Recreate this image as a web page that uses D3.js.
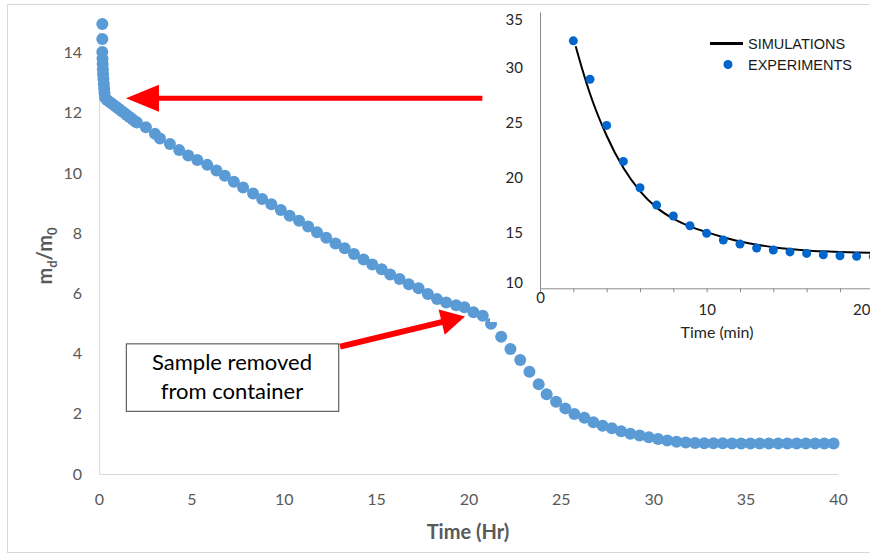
<!DOCTYPE html>
<html>
<head>
<meta charset="utf-8">
<script src="https://cdn.jsdelivr.net/npm/d3@7"></script>
<style>
  html, body { margin: 0; padding: 0; background: #fff; }
  svg { display: block; font-family: Lato, "Open Sans", sans-serif; }
</style>
</head>
<body>
<div id="chart"></div>
<script>
// main series: time (hr) vs m_d/m_0
const mainTime = [0.18, 0.18, 0.18, 0.19, 0.20, 0.21, 0.22, 0.24, 0.26, 0.28, 0.30, 0.33,
  0.45, 0.60, 0.75, 0.90, 1.05, 1.20, 1.35, 1.50, 1.65, 1.80, 1.95, 2.05,
  2.54, 3.03, 3.30, 3.84, 4.34, 4.83, 5.32, 5.86, 6.36, 6.81, 7.30, 7.80, 8.34, 8.83,
  9.33, 9.84, 10.32, 10.83, 11.32, 11.80, 12.30, 12.80, 13.30, 13.80, 14.32, 14.79,
  15.30, 15.76, 16.27, 16.77, 17.30, 17.80, 18.30, 18.79, 19.33, 19.78, 20.27, 20.77,
  21.22, 21.77, 22.27, 22.80, 23.30, 23.80, 24.23, 24.74, 25.24, 25.73, 26.27, 26.76,
  27.26, 27.76, 28.26, 28.76, 29.26, 29.76, 30.26, 30.76, 31.26, 31.76, 32.26, 32.76,
  33.26, 33.76, 34.26, 34.76, 35.26, 35.76, 36.26, 36.76, 37.26, 37.76, 38.26, 38.76,
  39.26, 39.76];
const mainRatio = [14.95, 14.45, 14.02, 13.80, 13.62, 13.45, 13.28, 13.12, 12.96, 12.80, 12.65, 12.50,
  12.42, 12.35, 12.28, 12.21, 12.14, 12.07, 12.00, 11.93, 11.86, 11.79, 11.72, 11.68,
  11.52, 11.30, 11.15, 10.96, 10.76, 10.58, 10.43, 10.27, 10.08, 9.91, 9.71, 9.52, 9.32, 9.14,
  8.96, 8.77, 8.58, 8.41, 8.22, 8.03, 7.85, 7.66, 7.50, 7.31, 7.13, 6.96,
  6.80, 6.63, 6.48, 6.30, 6.17, 5.98, 5.81, 5.70, 5.61, 5.54, 5.37, 5.26,
  4.99, 4.56, 4.15, 3.79, 3.40, 2.98, 2.65, 2.40, 2.18, 1.99, 1.87, 1.72,
  1.60, 1.52, 1.42, 1.34, 1.28, 1.22, 1.16, 1.11, 1.07, 1.05, 1.03, 1.02,
  1.02, 1.02, 1.01, 1.01, 1.01, 1.01, 1.01, 1.01, 1.01, 1.01, 1.01, 1.01,
  1.01, 1.01];
const mainXTicks = [0, 5, 10, 15, 20, 25, 30, 35, 40];
const mainYTicks = [0, 2, 4, 6, 8, 10, 12, 14];

// inset: experiments and simulation, time in minutes
const expTime = [2, 3, 4, 5, 6, 7, 8, 9, 10, 11, 12, 13, 14, 15, 16, 17, 18, 19, 20];
const expValue = [32.39, 28.92, 24.74, 21.48, 19.10, 17.53, 16.54, 15.66, 14.97, 14.37,
  14.01, 13.65, 13.47, 13.29, 13.16, 13.04, 12.95, 12.89, 12.86];
const simTime = [2.14, 2.5, 3, 4, 5, 6, 7, 8, 9, 10, 11, 12, 13, 14, 15, 16, 17, 18, 19, 20];
const simValue = [31.9, 30.0, 27.6, 23.8, 20.9, 18.8, 17.3, 16.3, 15.6, 15.08, 14.62,
  14.24, 13.95, 13.72, 13.55, 13.43, 13.35, 13.29, 13.25, 13.22];
const insetXTicks = [0, 2, 4, 6, 8, 10, 12, 14, 16, 18, 20];
const insetXLabels = [0, 10, 20];
const insetYTicks = [10, 15, 20, 25, 30, 35];

const W = 870, H = 554;
const svg = d3.select('#chart').append('svg')
    .attr('width', W)
    .attr('height', H);

svg.append('rect').attr('width', W).attr('height', H).attr('fill', '#fff');
// outer chart frame
svg.append('rect')
    .attr('x', 7.5).attr('y', 4.5)
    .attr('width', 900).attr('height', 548)
    .attr('fill', 'none')
    .attr('stroke', '#d9d9d9');

// ---- main chart ----
const x = d3.scaleLinear().domain([0, 40]).range([99, 838]);
const y = d3.scaleLinear().domain([0, 14.7]).range([474, 474 - 14.7 * 30.1]);

const xAxisG = svg.append('g')
    .attr('transform', `translate(0,${y(0)})`)
    .call(d3.axisBottom(x).tickValues(mainXTicks).tickSize(0).tickPadding(20));
const yAxisG = svg.append('g')
    .attr('transform', `translate(${x(0)},0)`)
    .call(d3.axisLeft(y).tickValues(mainYTicks).tickSize(0).tickPadding(17));

[xAxisG, yAxisG].forEach(g => {
    g.select('.domain').attr('stroke', '#d9d9d9').attr('stroke-width', 1);
    g.selectAll('text')
        .attr('fill', '#595959')
        .style('font-family', 'Lato, sans-serif')
        .style('font-size', '16px');
});

svg.append('text')
    .attr('x', 468).attr('y', 539)
    .attr('text-anchor', 'middle')
    .attr('fill', '#595959')
    .style('font-size', '20px')
    .style('font-weight', 'bold')
    .text('Time (Hr)');

const yLab = svg.append('text')
    .attr('transform', 'translate(52,256) rotate(-90)')
    .attr('text-anchor', 'middle')
    .attr('fill', '#595959')
    .style('font-size', '20px')
    .style('font-weight', 'bold');
yLab.append('tspan').text('m');
yLab.append('tspan').attr('dy', 5).style('font-size', '13px').text('d');
yLab.append('tspan').attr('dy', -5).text('/m');
yLab.append('tspan').attr('dy', 5).style('font-size', '13px').text('0');

svg.append('g')
    .selectAll('circle')
    .data(mainTime.map((t, i) => ({ t, v: mainRatio[i] })))
    .join('circle')
    .attr('cx', d => x(d.t))
    .attr('cy', d => y(d.v))
    .attr('r', 6)
    .attr('fill', '#5b9bd5');

// red arrow helper, endpoints in pixels
function arrow(x1, y1, x2, y2, shaft, headLen, headHalf) {
    const dx = x2 - x1, dy = y2 - y1;
    const len = Math.hypot(dx, dy);
    const ux = dx / len, uy = dy / len, nx = -uy, ny = ux;
    const bx = x2 - ux * headLen, by = y2 - uy * headLen;
    const s = shaft / 2;
    const pts = [
        [x1 + nx * s, y1 + ny * s], [bx + nx * s, by + ny * s],
        [bx + nx * headHalf, by + ny * headHalf], [x2, y2],
        [bx - nx * headHalf, by - ny * headHalf], [bx - nx * s, by - ny * s],
        [x1 - nx * s, y1 - ny * s]
    ];
    svg.append('path')
        .attr('d', 'M' + pts.map(p => p.join(',')).join('L') + 'Z')
        .attr('fill', '#ff0000');
}

arrow(x(20.75), y(12.48), x(1.46), y(12.48), 5, 33, 13.5);
arrow(x(13.05), y(4.23), x(19.81), y(5.23), 6, 24, 13);

// annotation box
const boxL = x(1.45), boxR = x(12.95), boxT = y(4.34), boxB = y(2.10);
svg.append('rect')
    .attr('x', boxL + 0.5).attr('y', boxT + 0.5)
    .attr('width', boxR - boxL).attr('height', boxB - boxT)
    .attr('fill', '#fff')
    .attr('stroke', '#404040')
    .attr('stroke-width', 1);
const boxText = svg.append('text')
    .attr('text-anchor', 'middle')
    .attr('fill', '#000')
    .style('font-size', '22px');
boxText.append('tspan').attr('x', (boxL + boxR) / 2).attr('y', boxT + 27).text('Sample removed');
boxText.append('tspan').attr('x', (boxL + boxR) / 2).attr('y', boxT + 56).text('from container');

// ---- inset ----
svg.append('rect')
    .attr('x', 490).attr('y', 8)
    .attr('width', W - 490).attr('height', 314)
    .attr('fill', '#fff');

const ix = d3.scaleLinear().domain([0, 20]).range([540, 873.3]);
const iy = d3.scaleLinear().domain([10, 35]).range([288.3, 12]);

const ixAxis = svg.append('g')
    .attr('transform', `translate(0,${iy(10)})`)
    .call(d3.axisBottom(ix).tickValues(insetXTicks).tickSize(4).tickPadding(12)
        .tickFormat(d => insetXLabels.includes(d) ? d : ''));
const iyAxis = svg.append('g')
    .attr('transform', `translate(${ix(0)},0)`)
    .call(d3.axisLeft(iy).tickValues(insetYTicks).tickSize(0).tickPadding(17));

[ixAxis, iyAxis].forEach(g => {
    g.select('.domain').attr('stroke', '#8c8c8c').attr('stroke-width', 1);
    g.selectAll('line').attr('stroke', '#8c8c8c');
    g.selectAll('text')
        .attr('fill', '#262626')
        .style('font-family', 'Lato, sans-serif')
        .style('font-size', '15px');
});
// labels at the edges sit a little inside the picture
ixAxis.selectAll('.tick text')
    .attr('x', d => d === 20 ? -12 : 0)
    .attr('y', d => d === 0 ? 4 : 16);
iyAxis.selectAll('.tick text')
    .attr('y', d => d === 35 ? 8 : d === 10 ? -6 : 0);

svg.append('text')
    .attr('x', 717).attr('y', 338)
    .attr('text-anchor', 'middle')
    .attr('fill', '#262626')
    .style('font-size', '16px')
    .text('Time (min)');

svg.append('path')
    .datum(simTime.map((t, i) => ({ t, v: simValue[i] })))
    .attr('d', d3.line().x(d => ix(d.t)).y(d => iy(d.v)).curve(d3.curveMonotoneX))
    .attr('fill', 'none')
    .attr('stroke', '#000')
    .attr('stroke-width', 2);

svg.append('g')
    .selectAll('circle')
    .data(expTime.map((t, i) => ({ t, v: expValue[i] })))
    .join('circle')
    .attr('cx', d => ix(d.t))
    .attr('cy', d => iy(d.v))
    .attr('r', 4.5)
    .attr('fill', '#0066cc');

// legend
const legend = svg.append('g').style('font-family', '"Liberation Sans", Arial, sans-serif');
legend.append('line')
    .attr('x1', 710).attr('x2', 743).attr('y1', 43.5).attr('y2', 43.5)
    .attr('stroke', '#000').attr('stroke-width', 3);
legend.append('circle')
    .attr('cx', 728).attr('cy', 64.5).attr('r', 4.5)
    .attr('fill', '#0066cc');
legend.append('text')
    .attr('x', 748).attr('y', 48.5)
    .attr('fill', '#1a1a1a')
    .style('font-size', '14.5px')
    .text('SIMULATIONS');
legend.append('text')
    .attr('x', 748).attr('y', 69.5)
    .attr('fill', '#1a1a1a')
    .style('font-size', '14.5px')
    .text('EXPERIMENTS');
</script>
</body>
</html>
